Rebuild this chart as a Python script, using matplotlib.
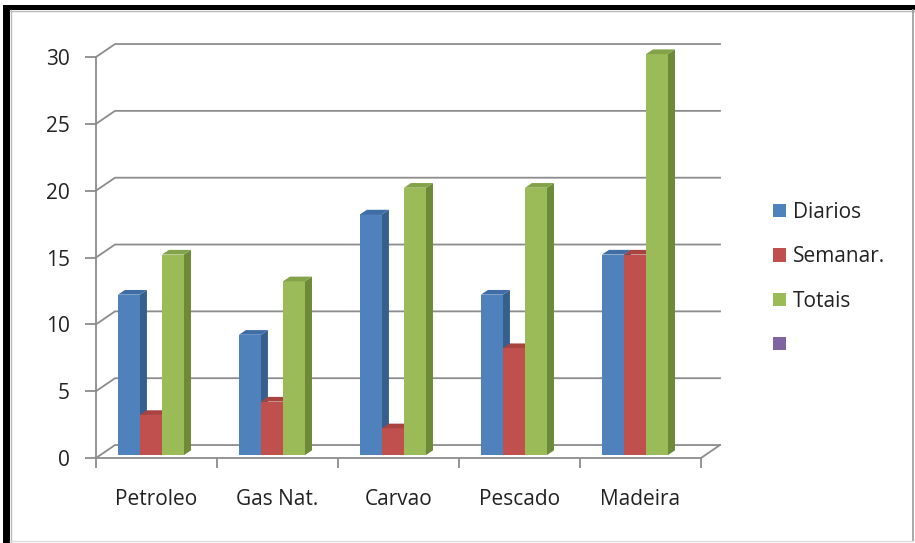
import matplotlib.pyplot as plt
from matplotlib.patches import Polygon, Rectangle, Patch
from matplotlib.lines import Line2D

categories = ["Petroleo", "Gas Nat.", "Carvao", "Pescado", "Madeira"]
diarios = [12, 9, 18, 12, 15]
semanar = [3, 4, 2, 8, 15]
totais = [15, 13, 20, 20, 30]
series_names = ["Diarios", "Semanar.", "Totais", ""]

front_cols = ["#4F81BD", "#C0504D", "#9BBB59", "#8064A2"]
top_cols = ["#3F6EA6", "#A8433F", "#82A348"]
side_cols = ["#375F8E", "#93403C", "#6D8A38"]
grid_col = "#8C8C8C"
text_col = "#222222"

W, H = 915, 543
plt.rcParams["font.family"] = ["Open Sans", "DejaVu Sans"]

fig = plt.figure(figsize=(W / 100, H / 100), dpi=100)
ax = fig.add_axes([96 / W, 85 / H, 605 / W, 401 / H])
ax.set_xlim(0, 5)
ax.set_ylim(0, 30)

# wall depth offset in data units and bar placement
DX, DY = 0.157, 0.97
FX, FY = 0.036, 0.22       # bar front face depth
BX, BY = 0.058, 0.35       # bar depth
bar_w = 0.182
bar_off = 0.145

yticks = list(range(0, 31, 5))

# back wall gridlines + diagonals off the front axis
for v in yticks:
    ax.plot([0, DX, 5 + DX], [v, v + DY, v + DY], color=grid_col, lw=1.3,
            clip_on=False, zorder=1, solid_joinstyle="miter")
ax.plot([5, 5 + DX], [0, DY], color=grid_col, lw=1.3, clip_on=False, zorder=1)


def draw_bar(x0, h, j):
    y0 = FY
    x1 = x0 + bar_w
    front = [(x0, y0), (x1, y0), (x1, y0 + h), (x0, y0 + h)]
    side = [(x1, y0), (x1 + BX, y0 + BY), (x1 + BX, y0 + h + BY), (x1, y0 + h)]
    top = [(x0, y0 + h), (x1, y0 + h), (x1 + BX, y0 + h + BY), (x0 + BX, y0 + h + BY)]
    for pts, c in ((side, side_cols[j]), (front, front_cols[j]), (top, top_cols[j])):
        ax.add_patch(Polygon(pts, closed=True, facecolor=c, edgecolor="none",
                             clip_on=False, zorder=3))


for i in range(len(categories)):
    for j, vals in enumerate([diarios, semanar, totais]):
        x0 = i + FX + bar_off + j * bar_w
        draw_bar(x0, vals[i], j)

for s in ["top", "right"]:
    ax.spines[s].set_visible(False)
for s in ["left", "bottom"]:
    ax.spines[s].set_color(grid_col)
    ax.spines[s].set_linewidth(1.3)
    ax.spines[s].set_zorder(4)

ax.set_yticks(yticks)
ax.set_xticks(range(6))
ax.set_xticklabels([])
ax.set_xticks([i + 0.5 for i in range(5)], minor=True)
ax.set_xticklabels(categories, minor=True)
ax.tick_params(axis="y", length=8, width=1.3, color=grid_col, pad=11,
               labelsize=15, labelcolor=text_col)
ax.tick_params(axis="x", which="major", length=7, width=1.3, color=grid_col)
ax.tick_params(axis="x", which="minor", length=0, pad=22,
               labelsize=15, labelcolor=text_col)
ax.set_facecolor("none")

handles = [Patch(facecolor=c, edgecolor="none") for c in front_cols]
fig.legend(handles, series_names, loc="center left",
           bbox_to_anchor=(773 / W, 1 - 279 / H), frameon=False,
           fontsize=15, handlelength=0.6, handleheight=0.6,
           handletextpad=0.35, labelspacing=1.12, borderpad=0,
           borderaxespad=0, labelcolor=text_col)


# outer frame: dark band on top/left, thin gray edges
def fx(x):
    return x / W


def fy(y):
    return 1 - y / H


fig.add_artist(Rectangle((fx(3), fy(543)), fx(10) - fx(3), fy(5) - fy(543),
                         transform=fig.transFigure, facecolor="black",
                         edgecolor="none"))
fig.add_artist(Rectangle((fx(3), fy(10)), fx(915) - fx(3), fy(5) - fy(10),
                         transform=fig.transFigure, facecolor="black",
                         edgecolor="none"))
fig.add_artist(Line2D([fx(10.5), fx(10.5)], [fy(10), fy(543)],
                      transform=fig.transFigure, color="#BBBBBB", lw=1))
fig.add_artist(Line2D([fx(10), fx(915)], [fy(10.5), fy(10.5)],
                      transform=fig.transFigure, color="#BBBBBB", lw=1))
fig.add_artist(Line2D([fx(912.5), fx(912.5)], [fy(10), fy(541)],
                      transform=fig.transFigure, color="#999999", lw=1.2))
fig.add_artist(Line2D([fx(10), fx(913)], [fy(541), fy(541)],
                      transform=fig.transFigure, color="#DDDDDD", lw=1))

fig.savefig("out.png", dpi=100)
